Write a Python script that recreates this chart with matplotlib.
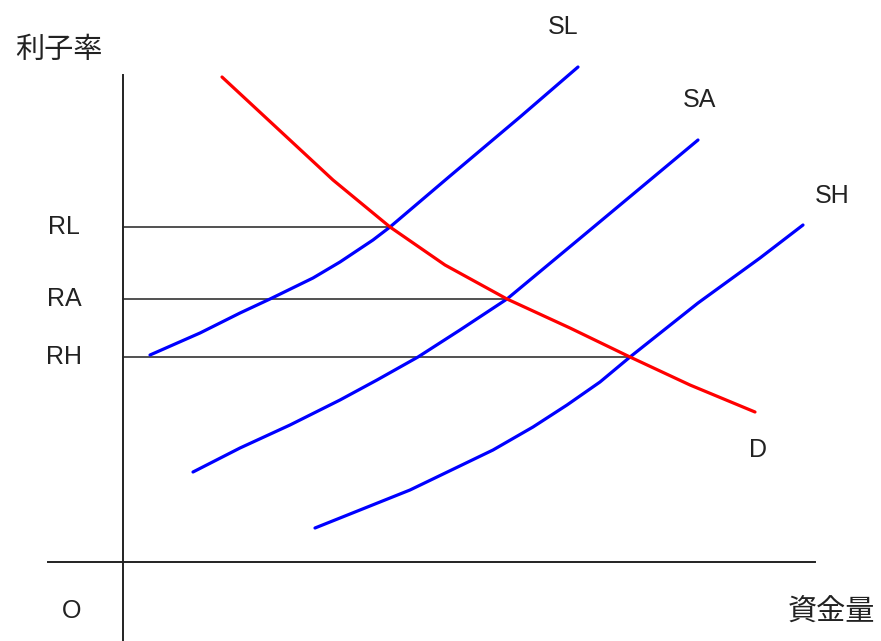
import matplotlib.pyplot as plt

plt.rcParams['font.family'] = ['Liberation Sans', 'Noto Sans CJK JP', 'DejaVu Sans']

# curve points (x: 資金量, y: 利子率, in drawing units with y pointing down)
sl_x = [150, 200, 240, 270, 313, 340, 373, 390, 450, 520, 578]
sl_y = [355, 333, 313, 299, 278, 262, 240, 227, 176, 117, 67]
sa_x = [193, 240, 290, 340, 377, 418, 460, 507, 578, 650, 698]
sa_y = [472, 448, 425, 400, 380, 357, 330, 299, 240, 180, 140]
sh_x = [315, 410, 493, 533, 567, 600, 630, 698, 760, 803]
sh_y = [528, 490, 450, 427, 405, 382, 357, 303, 258, 225]
d_x = [222, 333, 390, 445, 507, 570, 630, 690, 755]
d_y = [77, 180, 227, 265, 299, 328, 357, 385, 412]

# equilibrium rates and where they meet D
rate_names = ["RL", "RA", "RH"]
rate_y = [227, 299, 357]
rate_x = [390, 507, 630]

fig = plt.figure(figsize=(8.81, 6.41), dpi=100)
ax = fig.add_axes([0, 0, 1, 1])
ax.set_xlim(0, 881)
ax.set_ylim(641, 0)
ax.axis("off")

# axes lines
ax.plot([123, 123], [75, 641], color="#222222", lw=1.4)
ax.plot([48, 815], [562, 562], color="#222222", lw=1.4)

for name, y, x in zip(rate_names, rate_y, rate_x):
    ax.plot([123, x], [y, y], color="#222222", lw=1.1)
    ax.text(64, y, name, fontsize=18, ha="center", va="center", color="#222222")

blue = "#0000ff"
ax.plot(sl_x, sl_y, color=blue, lw=2.3, solid_capstyle="round", solid_joinstyle="round")
ax.plot(sa_x, sa_y, color=blue, lw=2.3, solid_capstyle="round", solid_joinstyle="round")
ax.plot(sh_x, sh_y, color=blue, lw=2.3, solid_capstyle="round", solid_joinstyle="round")
ax.plot(d_x, d_y, color="#ff0000", lw=2.3, solid_capstyle="round", solid_joinstyle="round")

ax.text(563, 27, "SL", fontsize=18, ha="center", va="center", color="#222222")
ax.text(700, 100, "SA", fontsize=18, ha="center", va="center", color="#222222")
ax.text(832, 196, "SH", fontsize=18, ha="center", va="center", color="#222222")
ax.text(758, 450, "D", fontsize=18, ha="center", va="center", color="#222222")
ax.text(72, 611, "O", fontsize=18, ha="center", va="center", color="#222222")

ax.text(59, 50, "利子率", fontsize=21, ha="center", va="center", color="#222222",
        family=["Noto Sans CJK JP"])
ax.text(831, 613, "資金量", fontsize=21, ha="center", va="center", color="#222222",
        family=["Noto Sans CJK JP"])

fig.savefig("out.png", dpi=100)
